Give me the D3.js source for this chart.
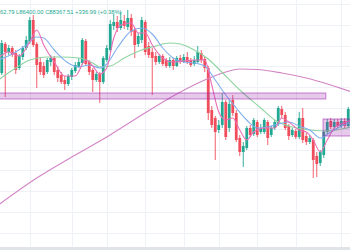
<!DOCTYPE html>
<html>
<head>
<meta charset="utf-8">
<script src="https://cdn.jsdelivr.net/npm/d3@7"></script>
<style>
  html, body { margin: 0; padding: 0; background: #fff; overflow: hidden; }
  svg { display: block; }
</style>
</head>
<body>
<div id="chart"></div>
<script>
// candles, left to right
const opens = [89680, 91072, 90688, 90880, 90640, 89920, 90448, 90880, 91168, 92224,
  91072, 90208, 90016, 89728, 90208, 90400, 89824, 89584, 89344, 89152,
  89488, 89776, 89968, 90160, 91216, 90208, 89824, 89344, 89632, 89248,
  90304, 90784, 91936, 92128, 91840, 92176, 91888, 92320, 91744, 91072,
  91264, 92128, 90976, 90688, 90496, 90208, 90496, 90304, 90016, 90304,
  90016, 90400, 90208, 90448, 90304, 90112, 90208, 90640, 90352, 89920,
  87904, 87520, 86944, 87184, 88288, 87040, 88384, 87760, 86560, 85888,
  86080, 87040, 86752, 87328, 86848, 86848, 87328, 86704, 87040, 87232,
  87952, 87664, 87136, 86704, 86896, 86608, 87520, 86656, 86368, 86464,
  85696, 85360, 85744, 86848, 87376, 87088, 87328, 87136, 87376, 87136];
const highs = [91264, 91168, 91024, 90976, 90784, 90592, 90976, 91456, 92368, 92464,
  91168, 90400, 90208, 90400, 90544, 90496, 90016, 89728, 89536, 89632,
  89920, 90208, 90400, 91360, 91312, 90304, 89920, 89728, 89728, 90496,
  91024, 92224, 92512, 92416, 92608, 92464, 92704, 92512, 91840, 91600,
  92368, 92224, 91168, 90880, 90688, 90592, 90592, 90400, 90448, 90400,
  90496, 90544, 90592, 90688, 90400, 90496, 90976, 90784, 90496, 90016,
  88096, 87616, 87424, 88720, 88384, 88384, 88624, 87904, 86704, 86368,
  87136, 87184, 87520, 87424, 87232, 87520, 87424, 87136, 87424, 88096,
  88096, 87808, 87232, 87040, 86992, 87808, 88000, 86800, 86704, 86560,
  85888, 85984, 86944, 87472, 87520, 87472, 87472, 87520, 87520, 88048];
const lows = [89584, 88528, 90544, 90448, 89632, 89824, 90304, 90784, 91072, 90928,
  88960, 89584, 89440, 89632, 90016, 89584, 89248, 89152, 88864, 89056,
  89344, 89680, 89920, 90064, 90016, 89584, 88768, 89248, 88240, 89152,
  90208, 90688, 91744, 91648, 91744, 91792, 91744, 91456, 90400, 90928,
  91120, 90544, 90400, 88624, 90064, 90112, 90016, 89920, 89920, 89824,
  89968, 90112, 90160, 90112, 89968, 90016, 90160, 90160, 89728, 87424,
  87040, 85504, 86800, 87040, 86464, 86848, 87616, 86368, 85696, 85168,
  85984, 86608, 86656, 86608, 86752, 86752, 86224, 86608, 86944, 87136,
  87520, 86944, 86464, 86608, 86512, 86512, 86320, 86224, 86272, 84640,
  84688, 85216, 85600, 86752, 86992, 86992, 87040, 87040, 86992, 87040];
const closes = [91120, 90688, 90880, 90544, 89824, 90496, 90880, 91264, 92224, 91024,
  90064, 89728, 89584, 90304, 90400, 89728, 89440, 89248, 89152, 89536,
  89824, 90064, 90208, 91264, 90112, 89728, 89344, 89632, 89248, 90400,
  90880, 92032, 92128, 91840, 92224, 91936, 92320, 91648, 91024, 91456,
  92224, 90688, 90544, 90400, 90208, 90496, 90112, 90016, 90304, 90016,
  90400, 90208, 90448, 90208, 90064, 90304, 90688, 90304, 89920, 87760,
  87184, 86848, 87184, 88288, 86608, 88192, 87760, 86464, 85888, 86176,
  87040, 86704, 87424, 86704, 87040, 87424, 86560, 87040, 87328, 88000,
  87664, 87040, 86656, 86944, 86608, 87520, 86464, 86368, 86560, 85504,
  85312, 85888, 86848, 87328, 87088, 87328, 87136, 87376, 87136, 87952];

// moving averages at some candles
const maPinkAt = [-1, 2, 5, 8, 10, 12, 15, 18, 21, 24, 26, 28, 30, 32, 34, 37, 39, 41, 43, 46,
  49, 52, 55, 58, 60, 62, 64, 66, 68, 70, 72, 75, 78, 80, 82, 85, 87, 89, 91, 93, 95, 97, 100];
const maPink = [90400, 90688, 90496, 91168, 91744, 91024, 90208, 89536, 89536, 90304, 90016,
  89632, 89920, 91360, 91984, 92080, 91600, 91600, 91024, 90400, 90208, 90256, 90304, 90304,
  89104, 87808, 87424, 87520, 86944, 86464, 86848, 87040, 87040, 87520, 87328, 86944, 86848,
  86464, 85888, 86464, 87040, 87232, 87424];

const maBlueAt = [-1, 3, 7, 10, 12, 15, 19, 22, 25, 28, 30, 33, 37, 40, 43, 46, 49, 52, 55, 58,
  61, 64, 67, 70, 73, 76, 79, 82, 85, 88, 91, 94, 97, 100];
const maBlue = [90304, 90592, 91024, 91408, 91360, 90784, 90160, 89968, 90064, 89920, 90112,
  90880, 91696, 91840, 91552, 90880, 90400, 90208, 90160, 90016, 89344, 88624, 88000, 87424,
  87040, 87088, 87232, 87328, 87136, 86944, 86560, 86848, 87136, 87328];

const maGreenAt = [-1, 4, 8, 13, 17, 22, 26, 28, 31, 35, 40, 44, 48, 51, 55, 59, 62, 68, 74, 78,
  83, 88, 93, 97, 100];
const maGreen = [89344, 89920, 90304, 90448, 90448, 90400, 90160, 89968, 90016, 90400, 90784,
  90976, 91120, 91072, 90784, 90352, 89872, 88864, 88000, 87424, 87088, 86944, 86896, 86992, 87088];

const maLongAt = [-1, 10, 20, 30, 40, 50, 58, 64, 68, 73, 80, 87, 94, 100];
const maLong = [83344, 84640, 85648, 86608, 87664, 88672, 89344, 89728, 89872, 89848, 89680,
  89440, 89104, 88768];

// drawn zones
const zoneFrom = [-1, 91.8];
const zoneTo = [92.6, 101];
const zoneTop = [88720, 87472];
const zoneBottom = [88432, 86656];

// grid
const priceTicks = [82000, 83000, 84000, 85000, 86000, 87000, 88000, 89000, 90000, 91000, 92000, 93000];
const timeTicks = [8, 20, 30, 41, 52, 62, 73, 84, 97];

const headerText = "62.79 L86400.00 C88367.51 +336.99 (+0.38%)";

var width = 350;
var height = 250;
var upColor = "#22a892";
var downColor = "#f04e5c";

var svg = d3.select("#chart")
    .append("svg")
    .attr("width", width)
    .attr("height", height);

var x = d3.scaleLinear().domain([-0.5, closes.length - 0.5]).range([0, width]);
var y = d3.scaleLinear().domain([93184, 81184]).range([0, height]);

//grid lines
svg.append("g")
    .selectAll("line")
    .data(priceTicks)
    .enter()
    .append("line")
    .attr("x1", 0)
    .attr("x2", width)
    .attr("y1", d => Math.round(y(d)) + 0.5)
    .attr("y2", d => Math.round(y(d)) + 0.5)
    .attr("stroke", "#eef1f6");

svg.append("g")
    .selectAll("line")
    .data(timeTicks)
    .enter()
    .append("line")
    .attr("y1", 0)
    .attr("y2", height)
    .attr("x1", d => Math.round(x(d)) + 0.5)
    .attr("x2", d => Math.round(x(d)) + 0.5)
    .attr("stroke", "#eef1f6");

//candles
var candles = closes.map((c, i) => ({ i: i, o: opens[i], h: highs[i], l: lows[i], c: c }));
var bodyW = 2.8;

var g = svg.append("g");

g.selectAll(".wick")
    .data(candles)
    .enter()
    .append("line")
    .attr("class", "wick")
    .attr("x1", d => x(d.i))
    .attr("x2", d => x(d.i))
    .attr("y1", d => y(d.h))
    .attr("y2", d => y(d.l))
    .attr("stroke", d => d.c >= d.o ? upColor : downColor)
    .attr("stroke-width", 0.9);

g.selectAll(".body")
    .data(candles)
    .enter()
    .append("rect")
    .attr("class", "body")
    .attr("x", d => x(d.i) - bodyW / 2)
    .attr("y", d => y(Math.max(d.o, d.c)))
    .attr("width", bodyW)
    .attr("height", d => Math.max(1, Math.abs(y(d.o) - y(d.c))))
    .attr("fill", d => d.c >= d.o ? upColor : downColor);

//moving averages
function drawMa(at, vals, color) {
    var line = d3.line()
        .x(d => x(d[0]))
        .y(d => y(d[1]))
        .curve(d3.curveMonotoneX);
    svg.append("path")
        .datum(at.map((a, k) => [a, vals[k]]))
        .attr("d", line)
        .attr("fill", "none")
        .attr("stroke", color)
        .attr("stroke-width", 1.1);
}

drawMa(maLongAt, maLong, "#d386c6");
drawMa(maGreenAt, maGreen, "#8fd4a0");
drawMa(maBlueAt, maBlue, "#7fb0ee");
drawMa(maPinkAt, maPink, "#ea6fb8");

//zones
svg.append("g")
    .selectAll("rect")
    .data(zoneTop)
    .enter()
    .append("rect")
    .attr("x", (d, k) => x(zoneFrom[k]))
    .attr("y", d => y(d))
    .attr("width", (d, k) => x(zoneTo[k]) - x(zoneFrom[k]))
    .attr("height", (d, k) => y(zoneBottom[k]) - y(d))
    .attr("fill", "rgba(156, 39, 176, 0.25)")
    .attr("stroke", "rgba(156, 39, 176, 0.55)")
    .attr("stroke-width", 1);

//header
svg.append("text")
    .attr("x", 0)
    .attr("y", 13.5)
    .attr("font-family", "Arial, 'Liberation Sans', sans-serif")
    .attr("font-size", 5.8)
    .attr("fill", upColor)
    .text(headerText);

//bottom strip
svg.append("rect")
    .attr("x", 0)
    .attr("y", 247)
    .attr("width", width)
    .attr("height", 3)
    .attr("fill", "#e0e3e8");
</script>
</body>
</html>
